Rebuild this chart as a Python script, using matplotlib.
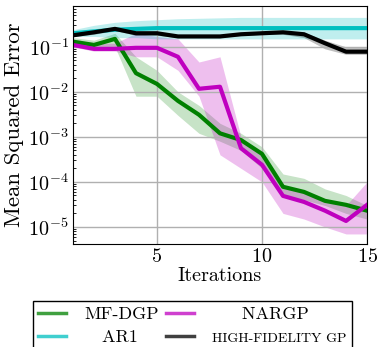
import numpy as np
import matplotlib.pyplot as plt

plt.rcParams['font.family'] = 'cmr10'
plt.rcParams['mathtext.fontset'] = 'cm'
plt.rcParams['axes.unicode_minus'] = False
plt.rcParams['axes.formatter.use_mathtext'] = True

iters = np.arange(1, 16)

# MF-DGP
mfdgp = [0.13, 0.11, 0.15, 0.026, 0.015, 0.0063, 0.0031, 0.0012, 0.00085, 0.00042,
         7.8e-5, 6e-5, 3.8e-5, 3.1e-5, 2.3e-5]
mfdgp_lo = [0.1, 0.09, 0.1, 0.008, 0.008, 0.003, 0.0012, 0.0008, 0.0005, 0.0002,
            5e-5, 4e-5, 3e-5, 2e-5, 1.5e-5]
mfdgp_hi = [0.16, 0.14, 0.2, 0.06, 0.03, 0.01, 0.005, 0.002, 0.0012, 0.0006,
            1.5e-4, 1.2e-4, 7e-5, 5e-5, 3e-5]

# NARGP
nargp = [0.11, 0.09, 0.09, 0.095, 0.095, 0.06, 0.0117, 0.013, 0.00056, 0.00024,
         4.9e-5, 3.6e-5, 2.3e-5, 1.36e-5, 3.1e-5]
nargp_lo = [0.1, 0.08, 0.08, 0.06, 0.06, 0.03, 0.008, 0.0004, 0.0002, 0.0001,
            2e-5, 1.5e-5, 1e-5, 7e-6, 7e-6]
nargp_hi = [0.15, 0.12, 0.12, 0.2, 0.17, 0.15, 0.046, 0.06, 0.001, 0.0004,
            8e-5, 6e-5, 4e-5, 3e-5, 1e-4]

# AR1
ar1 = [0.2, 0.22, 0.24, 0.25, 0.26, 0.26, 0.26, 0.26, 0.26, 0.26,
       0.26, 0.26, 0.26, 0.26, 0.26]
ar1_lo = [0.17, 0.17, 0.16, 0.16, 0.15, 0.15, 0.15, 0.15, 0.15, 0.15,
          0.15, 0.15, 0.15, 0.15, 0.15]
ar1_hi = [0.24, 0.3, 0.35, 0.38, 0.4, 0.42, 0.43, 0.44, 0.45, 0.45,
          0.45, 0.45, 0.45, 0.45, 0.45]

# high-fidelity GP
hfgp = [0.18, 0.21, 0.25, 0.2, 0.2, 0.17, 0.17, 0.17, 0.19, 0.2,
        0.21, 0.19, 0.12, 0.078, 0.078]
hfgp_lo = [0.17, 0.19, 0.23, 0.18, 0.18, 0.16, 0.16, 0.16, 0.18, 0.19,
           0.19, 0.16, 0.09, 0.068, 0.068]
hfgp_hi = [0.19, 0.23, 0.27, 0.22, 0.22, 0.18, 0.18, 0.18, 0.2, 0.21,
           0.22, 0.21, 0.14, 0.1, 0.1]

fig = plt.figure(figsize=(3.78, 3.47), dpi=100)
ax = fig.add_axes([0.193, 0.297, 0.778, 0.686])

l1, = ax.plot(iters, mfdgp, color='green', lw=3, label='MF-DGP')
ax.fill_between(iters, mfdgp_lo, mfdgp_hi, color='green', alpha=0.22, lw=0)
l3, = ax.plot(iters, nargp, color='m', lw=3, label='     NARGP')
ax.fill_between(iters, nargp_lo, nargp_hi, color='m', alpha=0.25, lw=0)
l2, = ax.plot(iters, ar1, color='c', lw=3, label='   AR1')
ax.fill_between(iters, ar1_lo, ar1_hi, color='c', alpha=0.25, lw=0)
l4, = ax.plot(iters, hfgp, color='k', lw=3, label='HIGH-FIDELITY GP')
ax.fill_between(iters, hfgp_lo, hfgp_hi, color='k', alpha=0.25, lw=0)

ax.set_yscale('log')
ax.set_xlim(1, 15)
ax.set_ylim(4.2e-6, 0.81)
ax.set_xticks([5, 10, 15])
ax.set_yticks([1e-5, 1e-4, 1e-3, 1e-2, 1e-1])
ax.grid(True, color='#b0b0b0', lw=1)
ax.tick_params(labelsize=14.5, length=0, pad=3)
ax.tick_params(which='minor', direction='in', length=2, left=True, bottom=False)
ax.set_xlabel('Iterations', fontsize=14.5, labelpad=1)
ax.set_ylabel('Mean Squared Error', fontsize=16.5, labelpad=3)

leg = ax.legend(handles=[l1, l2, l3, l4], ncol=2, loc='upper left',
                bbox_to_anchor=(-0.136, -0.24, 1.085, 0), mode='expand',
                fontsize=13, fancybox=False, edgecolor='k', framealpha=1,
                borderaxespad=0, handlelength=1.55, handletextpad=1.0,
                labelspacing=0.4, borderpad=0.3)
leg.get_texts()[3].set_fontsize(10)
for h in leg.legend_handles:
    h.set_linewidth(2.5)
    h.set_alpha(0.75)

fig.savefig('out.png', dpi=100)
